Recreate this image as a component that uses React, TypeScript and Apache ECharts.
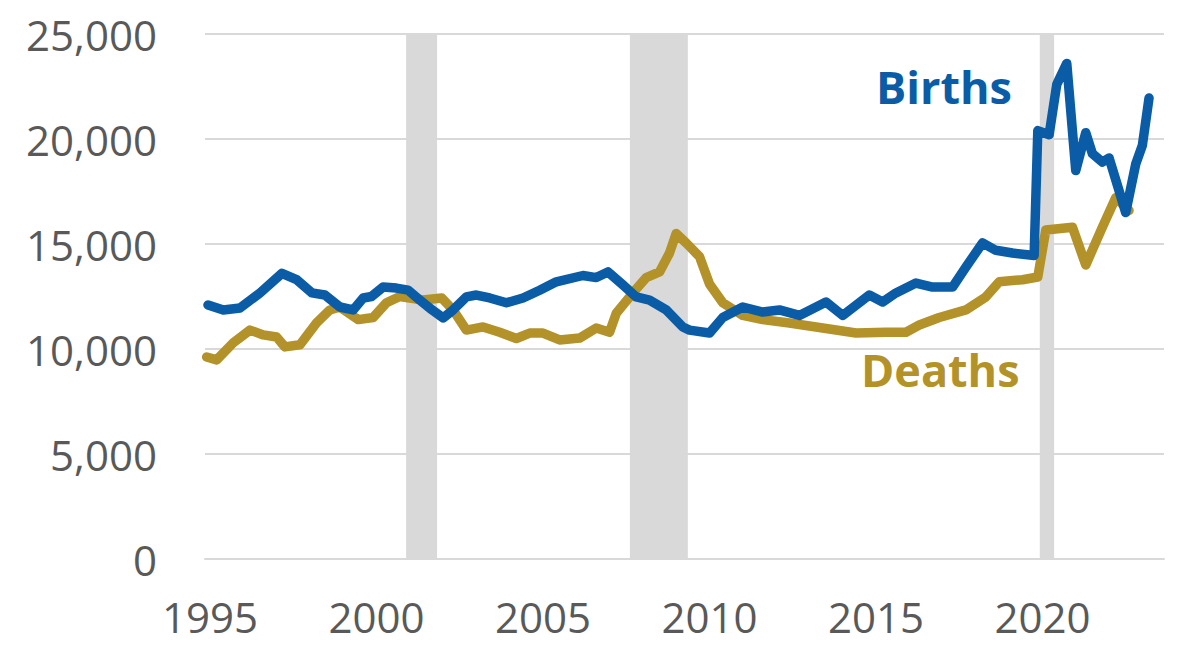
import React, { useEffect, useRef } from "react";
import * as echarts from "echarts";

const births: [number, number][] = [
  [1994.94, 12100], [1995.4, 11860], [1995.9, 11950], [1996.5, 12670], [1997.16, 13600],
  [1997.6, 13300], [1998.06, 12670], [1998.45, 12570], [1998.9, 12000], [1999.3, 11860],
  [1999.6, 12430], [1999.85, 12500], [2000.2, 12950], [2000.6, 12900], [2000.95, 12800],
  [2001.3, 12330], [2001.67, 11860], [2002.0, 11480], [2002.3, 11860], [2002.7, 12480],
  [2003.0, 12570], [2003.4, 12430], [2003.9, 12200], [2004.4, 12430], [2004.9, 12800],
  [2005.4, 13200], [2006.2, 13500], [2006.6, 13400], [2006.95, 13670], [2007.4, 13050],
  [2007.8, 12480], [2008.2, 12330], [2008.7, 11860], [2009.2, 11050], [2009.4, 10900],
  [2010.0, 10760], [2010.4, 11500], [2011.0, 12000], [2011.6, 11760], [2012.1, 11860],
  [2012.7, 11600], [2013.5, 12240], [2014.0, 11600], [2014.8, 12570], [2015.2, 12240],
  [2015.6, 12670], [2016.2, 13140], [2016.7, 12950], [2017.3, 12950], [2017.7, 13900],
  [2018.2, 15050], [2018.6, 14700], [2019.1, 14570], [2019.75, 14450], [2019.86, 20400],
  [2020.2, 20200], [2020.43, 22600], [2020.73, 23600], [2021.0, 18500], [2021.3, 20300],
  [2021.5, 19300], [2021.8, 18900], [2022.0, 19100], [2022.5, 16500], [2022.8, 18800],
  [2023.0, 19700], [2023.2, 21950],
];

const deaths: [number, number][] = [
  [1994.9, 9620], [1995.2, 9480], [1995.7, 10300], [1996.2, 10900], [1996.6, 10670],
  [1997.0, 10570], [1997.25, 10100], [1997.7, 10200], [1998.2, 11240], [1998.6, 11860],
  [1998.9, 12000], [1999.45, 11400], [1999.9, 11500], [2000.3, 12200], [2000.7, 12500],
  [2001.4, 12330], [2001.96, 12430], [2002.3, 11860], [2002.7, 10900], [2003.2, 11050],
  [2003.7, 10800], [2004.2, 10500], [2004.6, 10760], [2005.0, 10760], [2005.5, 10430],
  [2006.1, 10520], [2006.6, 11000], [2007.0, 10800], [2007.2, 11700], [2007.7, 12670],
  [2008.1, 13400], [2008.5, 13670], [2008.8, 14570], [2009.0, 15500], [2009.3, 15050],
  [2009.7, 14400], [2010.0, 13100], [2010.4, 12200], [2011.0, 11600], [2011.6, 11400],
  [2012.4, 11240], [2013.4, 11000], [2014.4, 10760], [2015.3, 10800], [2015.9, 10800],
  [2016.3, 11140], [2016.9, 11500], [2017.7, 11860], [2018.3, 12480], [2018.7, 13200],
  [2019.4, 13300], [2019.86, 13430], [2020.1, 15670], [2020.9, 15800], [2021.3, 14000],
  [2021.8, 15800], [2022.2, 17200], [2022.6, 16600],
];

const recessions: [number, number][] = [
  [2000.89, 2001.82],
  [2007.61, 2009.35],
  [2019.92, 2020.35],
];

const yearTicks = [1995, 2000, 2005, 2010, 2015, 2020];
const seriesNames = ["Births", "Deaths"];

const BLUE = "#0b5ca6";
const GOLD = "#b3922a";
const FONT = "'Open Sans', sans-serif";

export default function App() {
  const ref = useRef<HTMLDivElement>(null);
  useEffect(() => {
    if (!ref.current) return;
    const chart = echarts.init(ref.current, null, { renderer: "svg" });
    chart.setOption({
      animation: false,
      backgroundColor: "#ffffff",
      grid: { left: 205, right: 14, top: 34, bottom: 90 },
      xAxis: {
        type: "value",
        min: 1994.85,
        max: 2023.65,
        axisLine: { show: true, lineStyle: { color: "#d9d9d9", width: 2 } },
        axisTick: { show: false },
        splitLine: { show: false },
        axisLabel: {
          customValues: yearTicks,
          formatter: (v: number) => String(Math.round(v)),
          color: "#595959",
          fontSize: 42,
          fontFamily: FONT,
          margin: 36,
        },
      },
      yAxis: {
        type: "value",
        min: 0,
        max: 25000,
        interval: 5000,
        axisLine: { show: false },
        axisTick: { show: false },
        splitLine: { lineStyle: { color: "#d9d9d9", width: 2 } },
        axisLabel: {
          formatter: (v: number) => v.toLocaleString("en-US"),
          color: "#595959",
          fontSize: 42,
          fontFamily: FONT,
          margin: 48,
        },
      },
      series: [
        {
          type: "line",
          data: [],
          z: 1,
          silent: true,
          markArea: {
            silent: true,
            itemStyle: { color: "#d9d9d9" },
            data: recessions.map(([a, b]) => [{ xAxis: a }, { xAxis: b }]),
          },
        },
        {
          name: seriesNames[0],
          type: "line",
          data: births,
          z: 3,
          showSymbol: false,
          lineStyle: { color: BLUE, width: 9.5, join: "round", cap: "round" },
          itemStyle: { color: BLUE },
        },
        {
          name: seriesNames[1],
          type: "line",
          data: deaths,
          z: 2,
          showSymbol: false,
          lineStyle: { color: GOLD, width: 9.5, join: "round", cap: "round" },
          itemStyle: { color: GOLD },
        },
      ],
      graphic: [
        {
          type: "text",
          left: 876,
          top: 64,
          style: {
            text: seriesNames[0],
            fill: BLUE,
            font: `bold 45px ${FONT}`,
          },
        },
        {
          type: "text",
          left: 861,
          top: 347,
          style: {
            text: seriesNames[1],
            fill: GOLD,
            font: `bold 45px ${FONT}`,
          },
        },
      ],
    });
    return () => chart.dispose();
  }, []);
  return (
    <div
      ref={ref}
      style={{ position: "fixed", left: 0, top: 0, width: 1178, height: 649 }}
    />
  );
}
